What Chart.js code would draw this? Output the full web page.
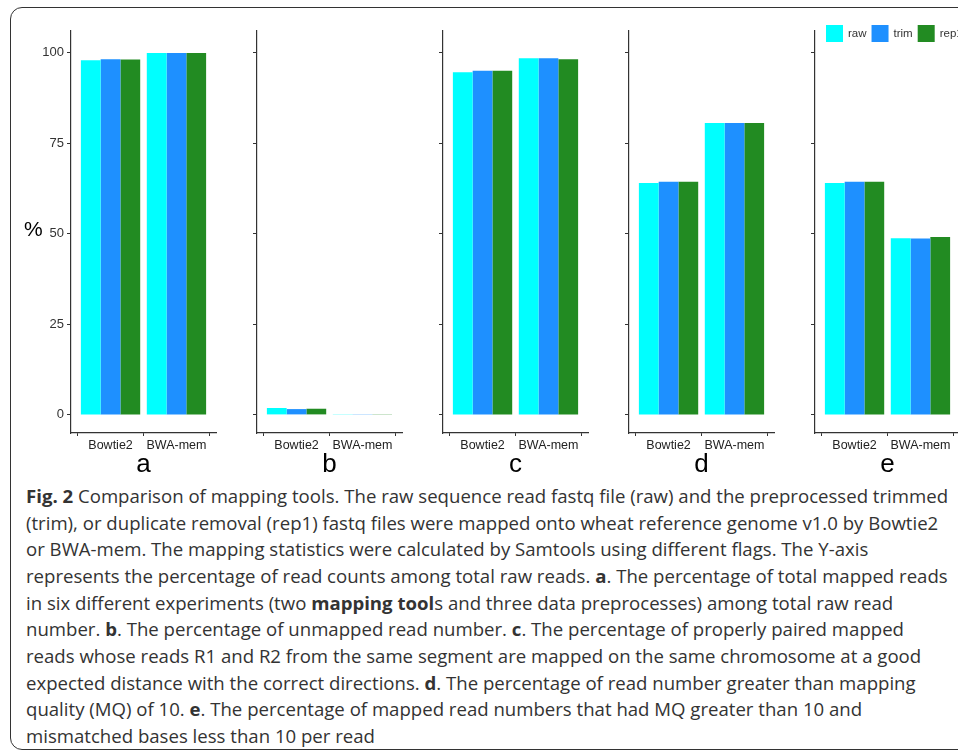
<!DOCTYPE html>
<html>
<head>
<meta charset="utf-8">
<script src="https://cdn.jsdelivr.net/npm/chart.js@4.4.1/dist/chart.umd.min.js"></script>
<style>
  body { margin: 0; background: #fff; width: 958px; height: 754px; overflow: hidden; position: relative; }
  #frame { position: absolute; left: 10px; top: 7px; width: 1000px; height: 741px; border: 1.8px solid #333; border-radius: 12px; }
  canvas { position: absolute; top: 0; }
  #ylab { position: absolute; left: 24px; top: 217px; font: 21px "Liberation Sans", Arial, sans-serif; color: #000; }
  #caption { position: absolute; left: 26px; top: 483px; font-family: "Open Sans", sans-serif; font-size: 18.6px; line-height: 26.67px; color: #333; white-space: nowrap; }
  #caption b { font-weight: 700; }
</style>
</head>
<body>
<div id="frame"></div>
<canvas id="panel-a" width="187" height="480"></canvas>
<canvas id="panel-b" width="187" height="480"></canvas>
<canvas id="panel-c" width="187" height="480"></canvas>
<canvas id="panel-d" width="187" height="480"></canvas>
<canvas id="panel-e" width="187" height="480"></canvas>
<div id="ylab">%</div>
<div id="caption">
<b>Fig. 2</b> Comparison of mapping tools. The raw sequence read fastq file (raw) and the preprocessed trimmed<br>
(trim), or duplicate removal (rep1) fastq files were mapped onto wheat reference genome v1.0 by Bowtie2<br>
or BWA-mem. The mapping statistics were calculated by Samtools using different flags. The Y-axis<br>
represents the percentage of read counts among total raw reads. <b>a</b>. The percentage of total mapped reads<br>
in six different experiments (two <b>mapping tool</b>s and three data preprocesses) among total raw read<br>
number. <b>b</b>. The percentage of unmapped read number. <b>c</b>. The percentage of properly paired mapped<br>
reads whose reads R1 and R2 from the same segment are mapped on the same chromosome at a good<br>
expected distance with the correct directions. <b>d</b>. The percentage of read number greater than mapping<br>
quality (MQ) of 10. <b>e</b>. The percentage of mapped read numbers that had MQ greater than 10 and<br>
mismatched bases less than 10 per read
</div>
<script>
// panels a-e, two mapping tools each, three preprocessing variants
const panels = ['a', 'b', 'c', 'd', 'e'];
const tools = ['Bowtie2', 'BWA-mem'];
const toolPos = [1, 2];
const seriesNames = ['raw', 'trim', 'rep1'];
const seriesColors = ['#00FFFF', '#1E90FF', '#228B22'];

// values per panel: [Bowtie2, BWA-mem]
const rawValues = [[97.9, 99.9], [1.9, 0.2], [94.6, 98.5], [64.0, 80.6], [64.0, 48.8]];
const trimValues = [[98.2, 99.9], [1.6, 0.2], [95.0, 98.5], [64.4, 80.6], [64.4, 48.7]];
const rep1Values = [[98.1, 99.9], [1.7, 0.2], [95.0, 98.2], [64.4, 80.6], [64.4, 49.1]];
const yTicks = [0, 25, 50, 75, 100];

const axisFont = '"Liberation Sans", Arial, sans-serif';
const firstAxisX = 71;
const panelStep = 186;
const yAxisWidth = 40;

// legend drawn over the top of the last panel, like ggplot's inside legend
const topLegend = {
    id: 'topLegend',
    afterDraw(chart) {
        const ctx = chart.ctx;
        let x = chart.chartArea.left + 11;
        const y = chart.chartArea.top - 6;
        ctx.save();
        ctx.font = '11.5px ' + axisFont;
        ctx.textBaseline = 'middle';
        chart.data.datasets.forEach(ds => {
            ctx.fillStyle = ds.backgroundColor;
            ctx.fillRect(x, y, 17, 17);
            ctx.fillStyle = '#333';
            ctx.fillText(ds.label, x + 22, y + 9);
            x += 22 + ctx.measureText(ds.label).width + 5;
        });
        ctx.restore();
    }
};

function makePanel(i) {
    const canvas = document.getElementById('panel-' + panels[i]);
    canvas.style.left = (firstAxisX + i * panelStep - yAxisWidth) + 'px';
    const values = [rawValues[i], trimValues[i], rep1Values[i]];

    return new Chart(canvas, {
        type: 'bar',
        data: {
            labels: toolPos,
            datasets: seriesNames.map((name, k) => ({
                label: name,
                data: values[k],
                backgroundColor: seriesColors[k],
                borderWidth: 0
            }))
        },
        options: {
            responsive: false,
            animation: false,
            layout: { padding: { top: 31, right: 2, bottom: 0, left: 0 } },
            datasets: { bar: { categoryPercentage: 0.9, barPercentage: 1 } },
            plugins: {
                legend: { display: false },
                tooltip: { enabled: false }
            },
            scales: {
                x: {
                    type: 'linear',
                    offset: false,
                    min: 0.4,
                    max: 2.6,
                    afterBuildTicks: scale => { scale.ticks = toolPos.map(v => ({ value: v })); },
                    afterFit: scale => { scale.height = 47; },
                    ticks: {
                        callback: (v, idx) => tools[idx],
                        autoSkip: false,
                        maxRotation: 0,
                        padding: 2,
                        color: '#222',
                        font: { family: axisFont, size: 12.5 }
                    },
                    grid: { drawOnChartArea: false, tickLength: 3, color: '#333' },
                    border: { color: '#333', width: 1.2 },
                    title: {
                        display: true,
                        text: panels[i],
                        color: '#000',
                        padding: { top: 0, bottom: 0 },
                        font: { family: axisFont, size: 26 }
                    }
                },
                y: {
                    min: -5,
                    max: 106,
                    afterBuildTicks: scale => { scale.ticks = yTicks.map(v => ({ value: v })); },
                    afterFit: scale => { scale.width = yAxisWidth; },
                    ticks: {
                        display: i === 0,
                        padding: 3,
                        color: '#333',
                        font: { family: axisFont, size: 13 }
                    },
                    grid: { drawOnChartArea: false, tickLength: 4, color: '#333' },
                    border: { color: '#333', width: 1.2 }
                }
            }
        },
        plugins: i === panels.length - 1 ? [topLegend] : []
    });
}

panels.forEach((p, i) => makePanel(i));
</script>
</body>
</html>
